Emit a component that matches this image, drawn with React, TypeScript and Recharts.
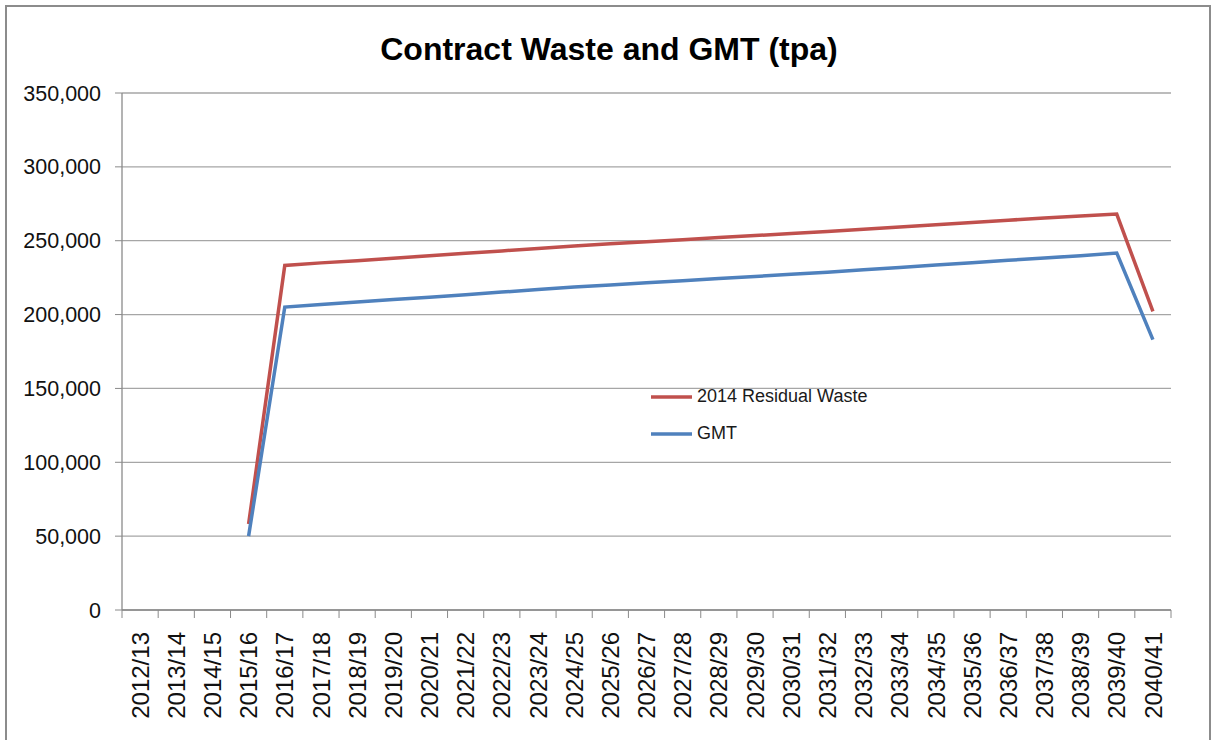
import React from 'react';
import { LineChart, Line, XAxis, YAxis, CartesianGrid, Legend } from 'recharts';

const categories = [
  '2012/13', '2013/14', '2014/15', '2015/16', '2016/17', '2017/18', '2018/19', '2019/20',
  '2020/21', '2021/22', '2022/23', '2023/24', '2024/25', '2025/26', '2026/27', '2027/28',
  '2028/29', '2029/30', '2030/31', '2031/32', '2032/33', '2033/34', '2034/35', '2035/36',
  '2036/37', '2037/38', '2038/39', '2039/40', '2040/41',
];

const residualWaste = [
  null, null, null, 58200,
  233300, 235000, 236500, 238200, 239800, 241500, 243100, 244800, 246500, 247900,
  249300, 250700, 252100, 253500, 254900, 256300, 257800, 259300, 260800, 262400,
  263900, 265300, 266700, 268000,
  202100,
];

const gmt = [
  null, null, null, 50000,
  205100, 206800, 208500, 210200, 211800, 213500, 215200, 216900, 218600, 220000,
  221500, 222900, 224400, 225800, 227300, 228700, 230300, 231900, 233500, 235100,
  236700, 238300, 239900, 241700,
  183000,
];

const yTicks = [0, 50000, 100000, 150000, 200000, 250000, 300000, 350000];

const seriesNames = { residual: '2014 Residual Waste', gmt: 'GMT' };

const data = categories.map((c, i) => ({
  year: c,
  residual: residualWaste[i],
  gmt: gmt[i],
}));

const CHART_W = 1215;
const CHART_H = 740;
const MARGIN = { top: 93, right: 44, left: 12, bottom: 0 };
const Y_AXIS_W = 110;
const X_AXIS_H = 130;
const PLOT_W = CHART_W - MARGIN.left - MARGIN.right - Y_AXIS_W;
const BAND = PLOT_W / categories.length;

const FONT = '"Liberation Sans", Arial, sans-serif';
const AXIS_COLOR = '#8a8a8a';
const GRID_COLOR = '#a6a6a6';
const RED = '#C0504D';
const BLUE = '#4F81BD';

const XTick = (props: any) => {
  const { x, y, payload, index } = props;
  return (
    <g transform={`translate(${x},${y})`}>
      <line x1={-BAND / 2} y1={0} x2={-BAND / 2} y2={8} stroke={AXIS_COLOR} strokeWidth={1} />
      {index === categories.length - 1 && (
        <line x1={BAND / 2} y1={0} x2={BAND / 2} y2={8} stroke={AXIS_COLOR} strokeWidth={1} />
      )}
      <text
        transform="rotate(-90)"
        x={-22}
        y={0}
        dy="0.36em"
        textAnchor="end"
        fontFamily={FONT}
        fontSize={24}
        fill="#111"
      >
        {payload.value}
      </text>
    </g>
  );
};

const renderLegend = (props: any) => {
  const { payload } = props;
  return (
    <div>
      {(payload || []).map((entry: any, i: number) => (
        <div key={i} style={{ display: 'flex', alignItems: 'center', height: 37 }}>
          <svg width={46} height={10} style={{ display: 'block' }}>
            <line x1={0} y1={5} x2={41} y2={5} stroke={entry.color} strokeWidth={3.5} />
          </svg>
          <span style={{ fontFamily: FONT, fontSize: 18, color: '#1a1a1a', whiteSpace: 'nowrap' }}>
            {entry.value}
          </span>
        </div>
      ))}
    </div>
  );
};

export default function App() {
  return (
    <div style={{ position: 'absolute', left: 0, top: 0, width: CHART_W, height: CHART_H, background: '#fff', overflow: 'hidden' }}>
      <div
        style={{
          position: 'absolute', left: 5, top: 5, width: 1206, height: 800,
          border: '2px solid #8c8c8c', boxSizing: 'border-box', pointerEvents: 'none',
        }}
      />
      <div
        style={{
          position: 'absolute', left: 0, width: 1218, top: 33, textAlign: 'center',
          fontFamily: FONT, fontWeight: 'bold', fontSize: 32, lineHeight: '32px', color: '#000',
        }}
      >
        Contract Waste and GMT (tpa)
      </div>
      <LineChart width={CHART_W} height={CHART_H} data={data} margin={MARGIN}>
        <CartesianGrid vertical={false} stroke={GRID_COLOR} strokeWidth={1.3} />
        <XAxis
          dataKey="year"
          interval={0}
          height={X_AXIS_H}
          padding={{ left: BAND / 2, right: BAND / 2 }}
          tick={<XTick />}
          tickLine={false}
          tickSize={0}
          tickMargin={0}
          axisLine={{ stroke: AXIS_COLOR, strokeWidth: 1.3 }}
        />
        <YAxis
          width={Y_AXIS_W}
          domain={[0, 350000]}
          ticks={yTicks}
          interval={0}
          tickFormatter={(v: number) => v.toLocaleString('en-US')}
          tick={{ fontFamily: FONT, fontSize: 21.5, fill: '#111' }}
          tickSize={7}
          tickMargin={14}
          tickLine={{ stroke: AXIS_COLOR }}
          axisLine={{ stroke: AXIS_COLOR, strokeWidth: 1.3 }}
        />
        <Legend
          layout="vertical"
          align="center"
          verticalAlign="middle"
          content={renderLegend}
          wrapperStyle={{ left: 651, top: 378, width: 300 }}
        />
        <Line
          type="linear"
          dataKey="residual"
          name={seriesNames.residual}
          stroke={RED}
          strokeWidth={3.5}
          dot={false}
          isAnimationActive={false}
        />
        <Line
          type="linear"
          dataKey="gmt"
          name={seriesNames.gmt}
          stroke={BLUE}
          strokeWidth={3.5}
          dot={false}
          isAnimationActive={false}
        />
      </LineChart>
    </div>
  );
}
